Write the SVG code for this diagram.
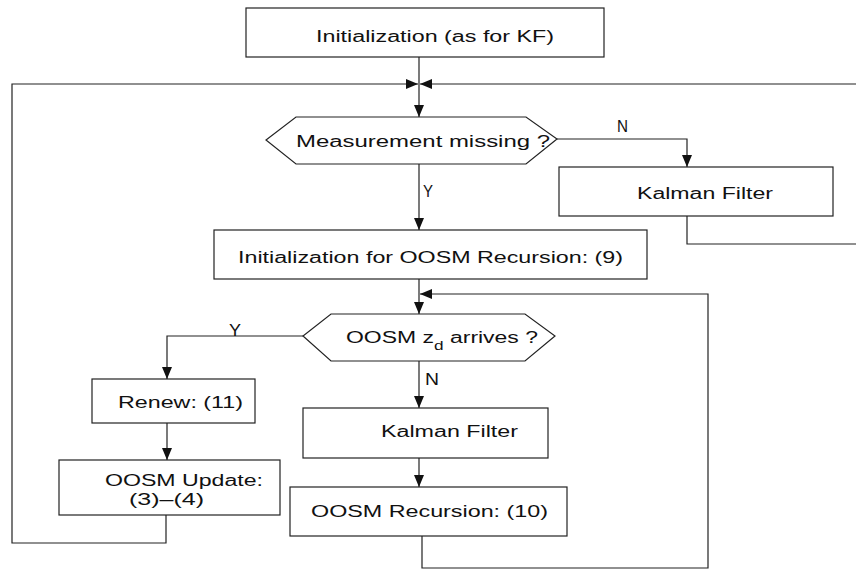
<svg xmlns="http://www.w3.org/2000/svg" width="856" height="570" viewBox="0 0 856 570">
<style>
.box{fill:#fff;stroke:#222;stroke-width:1.2}
.ln{fill:none;stroke:#222;stroke-width:1.2}
.t{font-family:"Liberation Sans",Arial,sans-serif;font-size:16px;fill:#111}
</style>
<defs>
<marker id="ah" viewBox="0 0 12 10" refX="12" refY="5" markerWidth="12" markerHeight="10" orient="auto" markerUnits="userSpaceOnUse">
<path d="M0,0 L12,5 L0,10 z" fill="#111"/>
</marker>
</defs>
<rect width="856" height="570" fill="#fff"/>
<g id="connectors">
<path class="ln" d="M419,57 V117" marker-end="url(#ah)"/>
<path class="ln" d="M166,515 V543 H12 V84 H418" marker-end="url(#ah)"/>
<path class="ln" d="M687,216 V244 H856"/>
<path class="ln" d="M856,84 H420" marker-end="url(#ah)"/>
<path class="ln" d="M557,139 H687 V167" marker-end="url(#ah)"/>
<path class="ln" d="M419,164 V230" marker-end="url(#ah)"/>
<path class="ln" d="M419,279 V314" marker-end="url(#ah)"/>
<path class="ln" d="M422,536 V568 H708 V294 H420" marker-end="url(#ah)"/>
<path class="ln" d="M303,336 H167 V379" marker-end="url(#ah)"/>
<path class="ln" d="M419,361 V408" marker-end="url(#ah)"/>
<path class="ln" d="M167,423 V460" marker-end="url(#ah)"/>
<path class="ln" d="M419,458 V487" marker-end="url(#ah)"/>
<text class="t" x="617" y="132" textLength="11" lengthAdjust="spacingAndGlyphs">N</text>
<text class="t" x="423" y="197" textLength="10" lengthAdjust="spacingAndGlyphs">Y</text>
<text class="t" x="229" y="336" textLength="12" lengthAdjust="spacingAndGlyphs">Y</text>
<text class="t" x="425" y="385" textLength="14" lengthAdjust="spacingAndGlyphs">N</text>
</g>
<g id="init">
<rect class="box" x="246" y="8" width="358" height="49"/>
<text class="t" x="316" y="42" textLength="238" lengthAdjust="spacingAndGlyphs">Initialization (as for KF)</text>
</g>
<g id="missing">
<polygon class="box" points="296,117 526,117 557,139 526,164 296,164 266,140"/>
<text class="t" x="296" y="147" textLength="254" lengthAdjust="spacingAndGlyphs">Measurement missing ?</text>
</g>
<g id="kf1">
<rect class="box" x="559" y="167" width="274" height="49"/>
<text class="t" x="637" y="199" textLength="136" lengthAdjust="spacingAndGlyphs">Kalman Filter</text>
</g>
<g id="initoosm">
<rect class="box" x="214" y="230" width="433" height="49"/>
<text class="t" x="238" y="263" textLength="385" lengthAdjust="spacingAndGlyphs">Initialization for OOSM Recursion: (9)</text>
</g>
<g id="arrives">
<polygon class="box" points="331,314 525,314 555,336 525,361 331,361 303,336"/>
<text class="t" x="346" y="343" textLength="192" lengthAdjust="spacingAndGlyphs">OOSM z<tspan dy="7" font-size="12">d</tspan><tspan dy="-7"> arrives ?</tspan></text>
</g>
<g id="renew">
<rect class="box" x="92" y="379" width="163" height="44"/>
<text class="t" x="118" y="408" textLength="125" lengthAdjust="spacingAndGlyphs">Renew: (11)</text>
</g>
<g id="update">
<rect class="box" x="59" y="460" width="221" height="55"/>
<text class="t" x="105" y="486" textLength="158" lengthAdjust="spacingAndGlyphs">OOSM Update:</text>
<text class="t" x="129" y="505" textLength="75" lengthAdjust="spacingAndGlyphs">(3)–(4)</text>
</g>
<g id="kf2">
<rect class="box" x="303" y="408" width="245" height="50"/>
<text class="t" x="381" y="437" textLength="137" lengthAdjust="spacingAndGlyphs">Kalman Filter</text>
</g>
<g id="recursion">
<rect class="box" x="290" y="487" width="277" height="49"/>
<text class="t" x="311" y="517" textLength="237" lengthAdjust="spacingAndGlyphs">OOSM Recursion: (10)</text>
</g>
</svg>
